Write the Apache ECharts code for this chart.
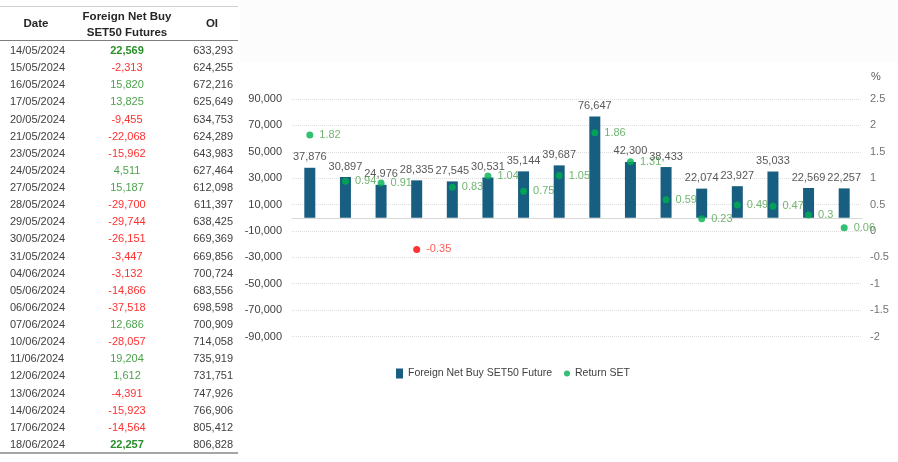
<!DOCTYPE html>
<html>
<head>
<meta charset="utf-8">
<script src="https://cdn.jsdelivr.net/npm/echarts@6/dist/echarts.min.js"></script>
<style>
  html, body { margin: 0; padding: 0; background: #fff; }
  #wrap { position: relative; width: 898px; height: 462px; overflow: hidden; font-family: "Liberation Sans", Arial, sans-serif; }
  #band { position: absolute; left: 240px; top: 0; width: 658px; height: 62px; background: #fcfcfc; }
  #chart { position: absolute; left: 0; top: 0; width: 898px; height: 462px; }
  #table { position: absolute; left: 0; top: 0; width: 238px; height: 462px; background: #fff; color: #404040; font-size: 11px; }
  .hline { position: absolute; left: 0; width: 238px; }
  .cell { position: absolute; white-space: nowrap; }
  .hd { font-weight: bold; color: #262626; font-size: 11.5px; }
</style>
</head>
<body>
<div id="wrap">
  <div id="band"></div>
  <div id="chart"></div>
  <div id="table"></div>
</div>
<script>
// table data
const dates = ["14/05/2024", "15/05/2024", "16/05/2024", "17/05/2024", "20/05/2024", "21/05/2024",
  "23/05/2024", "24/05/2024", "27/05/2024", "28/05/2024", "29/05/2024", "30/05/2024",
  "31/05/2024", "04/06/2024", "05/06/2024", "06/06/2024", "07/06/2024", "10/06/2024",
  "11/06/2024", "12/06/2024", "13/06/2024", "14/06/2024", "17/06/2024", "18/06/2024"];
const netBuy = [22569, -2313, 15820, 13825, -9455, -22068, -15962, 4511, 15187, -29700, -29744, -26151,
  -3447, -3132, -14866, -37518, 12686, -28057, 19204, 1612, -4391, -15923, -14564, 22257];
const openInterest = [633293, 624255, 672216, 625649, 634753, 624289, 643983, 627464, 612098, 611397,
  638425, 669369, 669856, 700724, 683556, 698598, 700909, 714058, 735919, 731751, 747926, 766906,
  805412, 806828];

// chart data
const categories = ["1", "2", "3", "4", "5", "6", "7", "8", "9", "10", "11", "12", "13", "14", "15", "16"];
const foreignNetBuy = [37876, 30897, 24976, 28335, 27545, 30531, 35144, 39687, 76647, 42300,
  38433, 22074, 23927, 35033, 22569, 22257];
const returnSET = [1.82, 0.94, 0.91, -0.35, 0.83, 1.04, 0.75, 1.05, 1.86, 1.31, 0.59, 0.23,
  0.49, 0.47, 0.3, 0.06];

const fmt = (v) => v.toLocaleString("en-US");

// build the table
const tbl = document.getElementById("table");
function addLine(top, h, color) {
  const d = document.createElement("div");
  d.className = "hline";
  d.style.top = top + "px";
  d.style.height = h + "px";
  d.style.background = color;
  tbl.appendChild(d);
}
function addCell(text, opts) {
  const d = document.createElement("div");
  d.className = "cell" + (opts.cls ? " " + opts.cls : "");
  d.textContent = text;
  d.style.top = opts.top + "px";
  d.style.lineHeight = (opts.lh || 17) + "px";
  if (opts.left != null) d.style.left = opts.left + "px";
  if (opts.right != null) d.style.right = opts.right + "px";
  if (opts.center != null) {
    d.style.left = (opts.center - 60) + "px";
    d.style.width = "120px";
    d.style.textAlign = "center";
  }
  if (opts.color) d.style.color = opts.color;
  if (opts.bold) d.style.fontWeight = "bold";
  tbl.appendChild(d);
}
addLine(6, 1, "#d0d0d0");
addCell("Date", { cls: "hd", top: 15, center: 36 });
addCell("Foreign Net Buy", { cls: "hd", top: 8, lh: 16, center: 127 });
addCell("SET50 Futures", { cls: "hd", top: 24, lh: 16, center: 127 });
addCell("OI", { cls: "hd", top: 15, center: 212 });
addLine(40, 1, "#7f7f7f");
dates.forEach((d, i) => {
  const top = 42 + i * 17.13;
  const first = i === 0, last = i === dates.length - 1;
  const v = netBuy[i];
  let color = v >= 0 ? "#4ea34e" : "#ff3030";
  if (first || last) color = "#2a8f2a";
  addCell(d, { top: top, left: 10 });
  addCell(fmt(v), { top: top, center: 127, color: color, bold: first || last });
  addCell(fmt(openInterest[i]), { top: top, right: 5 });
});
addLine(452, 2, "#a6a6a6");

// chart
const chart = echarts.init(document.getElementById("chart"));
const option = {
  animation: false,
  textStyle: { fontFamily: "Liberation Sans, Arial, sans-serif" },
  grid: { left: 292, right: 36, top: 99, height: 237.5 },
  legend: [
    {
      left: 391,
      top: 363,
      itemWidth: 7,
      itemHeight: 10,
      textStyle: { color: "#404040", fontSize: 10.5 },
      data: [{ name: "Foreign Net Buy SET50 Future", icon: "rect" }],
    },
    {
      left: 559,
      top: 363,
      itemWidth: 6,
      itemHeight: 6,
      textStyle: { color: "#404040", fontSize: 10.5 },
      data: [{ name: "Return SET", icon: "circle", itemStyle: { color: "#00b050" } }],
    },
  ],
  xAxis: {
    type: "category",
    data: categories,
    axisLine: { show: true, onZero: true, lineStyle: { color: "#d9d9d9" } },
    axisTick: { show: false },
    axisLabel: { show: false },
  },
  yAxis: [
    {
      type: "value",
      min: -90000,
      max: 90000,
      interval: 10000,
      axisLine: { show: false },
      axisTick: { show: false },
      splitLine: { show: false },
      axisLabel: {
        margin: 10,
        color: "#404040",
        fontSize: 11,
        formatter: function (v) {
          return Math.abs(Math.round(v / 10000)) % 2 === 1 ? fmt(v) : "";
        },
      },
    },
    {
      type: "value",
      min: -2,
      max: 2.5,
      interval: 0.5,
      name: "%",
      nameLocation: "end",
      nameGap: 17,
      nameTextStyle: { color: "#595959", fontSize: 11, align: "left", padding: [0, 0, 0, 9] },
      axisLine: { show: false },
      axisTick: { show: false },
      splitLine: { show: true, lineStyle: { color: "#dedede", type: "dotted" } },
      axisLabel: { margin: 8, color: "#737373", fontSize: 11 },
    },
  ],
  series: [
    {
      name: "Foreign Net Buy SET50 Future",
      type: "bar",
      yAxisIndex: 0,
      barWidth: 11,
      data: foreignNetBuy,
      itemStyle: { color: "#175e80" },
      label: {
        show: true,
        position: "top",
        distance: 5,
        color: "#595959",
        fontSize: 11,
        formatter: (p) => fmt(p.value),
      },
    },
    {
      name: "Return SET",
      type: "scatter",
      yAxisIndex: 1,
      symbolSize: 7,
      data: returnSET.map((v) => (v < 0 ? { value: v, label: { color: "#ff3030" } } : v)),
      itemStyle: {
        color: (p) => (p.value < 0 ? "#ff0000" : "#00b050"),
      },
      label: {
        show: true,
        position: "right",
        distance: 6,
        fontSize: 11,
        color: "#4ea34e",
        formatter: (p) => String(p.value),
      },
      z: 3,
    },
  ],
};
chart.setOption(option);
</script>
</body>
</html>
